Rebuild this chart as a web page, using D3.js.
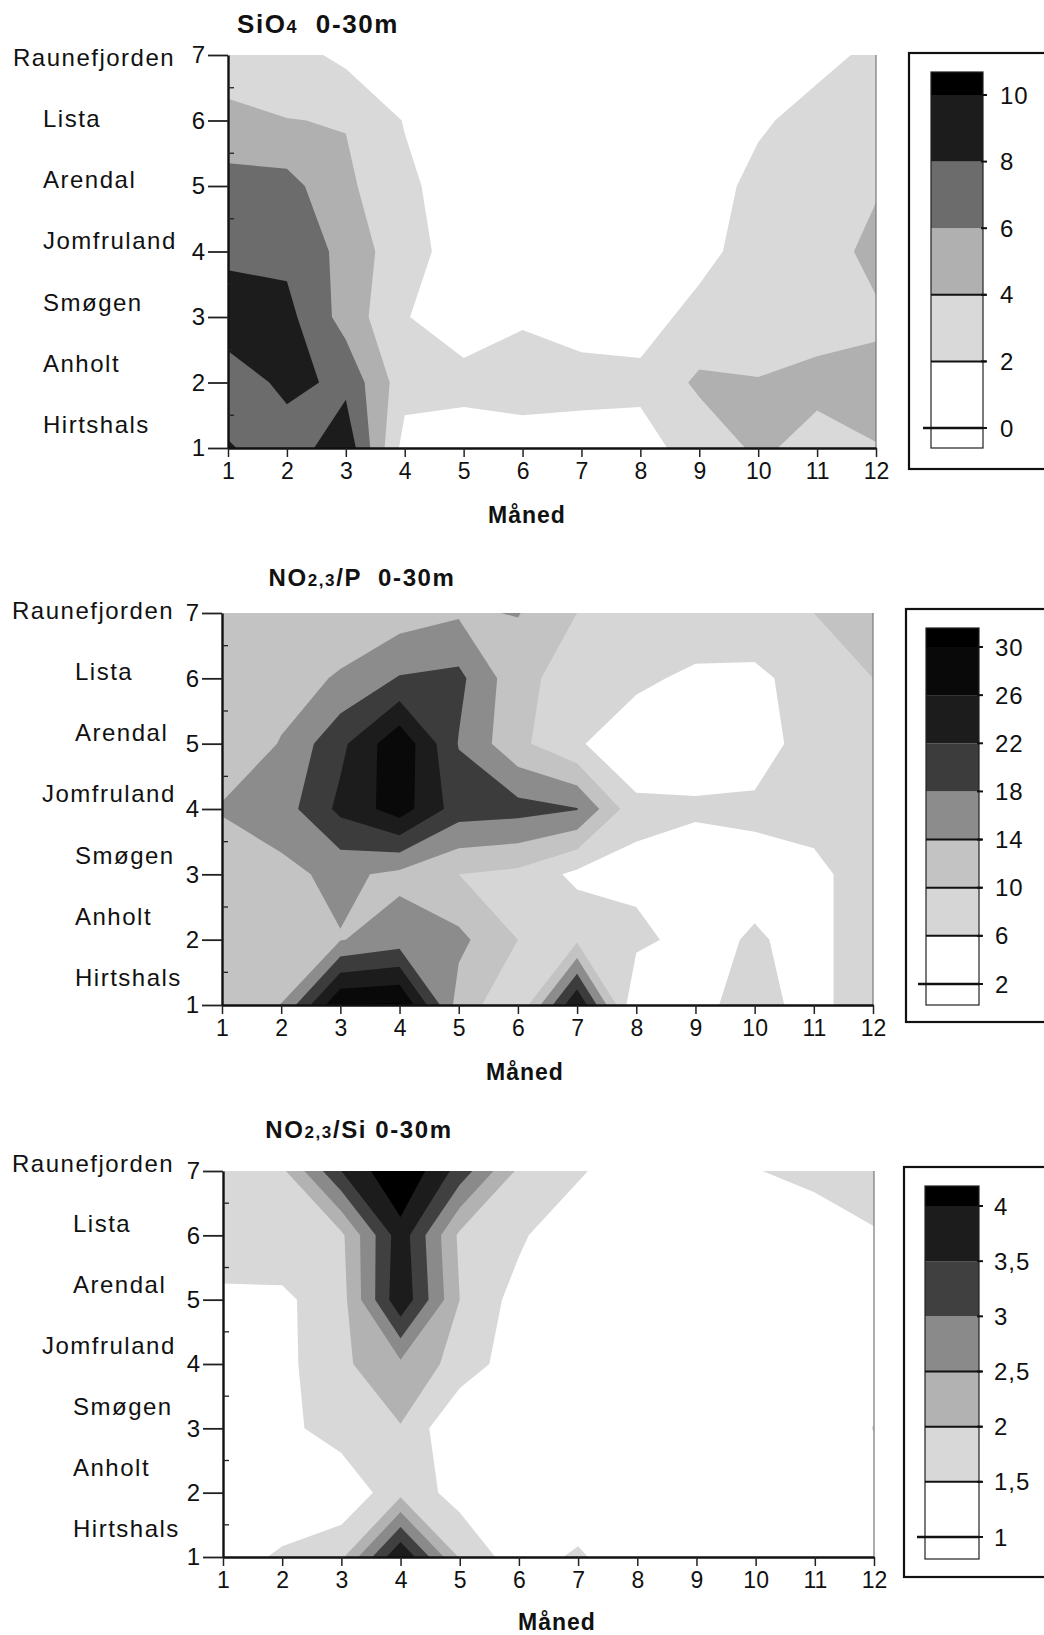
<!DOCTYPE html>
<html><head><meta charset="utf-8">
<script src="https://cdn.jsdelivr.net/npm/d3@7"></script>
<style>
body{margin:0;background:#fff;}
svg text{font-family:"Liberation Sans",Arial,Helvetica,sans-serif;fill:#111;}
</style></head><body>
<svg id="c" width="1044" height="1635"></svg>
<script>
// ---------- data ----------
const months=[1,2,3,4,5,6,7,8,9,10,11,12];
const stationTicks=[1,2,3,4,5,6,7];
const stations=["Hirtshals","Anholt","Smøgen","Jomfruland","Arendal","Lista","Raunefjorden"]; // station 1..7

// grid rows: station 1 (Hirtshals) first, columns month 1..12
const sio4Levels=[0,2,4,6,8,10];
const sio4Grid=[
 [8.2,6.8,9.4,1.2,1.0,1.2,1.2,1.5,2.6,4.4,3.2,3.95],
 [6.6,8.6,7.5,2.8,2.6,2.8,2.6,2.3,4.4,4.1,4.6,4.5],
 [9.5,8.6,5.2,2.1,1.0,1.8,1.3,1.5,2.4,2.9,3.1,3.7],
 [7.4,7.5,5.4,2.6,1.3,1.0,1.0,1.0,1.6,2.6,3.0,4.6],
 [6.8,6.7,4.4,2.4,1.0,1.0,1.0,1.0,1.3,2.4,2.9,3.8],
 [4.5,4.05,3.9,1.9,1.0,1.0,1.0,1.0,1.0,1.8,2.5,2.9],
 [3.0,2.8,1.5,1.0,1.0,1.0,1.0,1.0,1.0,1.0,1.6,2.3]
];
const no3pLevels=[2,6,10,14,18,22,26,30];
const no3pGrid=[
 [10,14.1,30,30.5,12.2,6.6,26,2,5,7.5,4.5,9],
 [10,10.5,13.8,16,15,10,9.3,7,4.5,6.5,4.5,9],
 [10,13,15,13,10,9,5,5,4,4.5,5,8],
 [14.5,16,23,28,20,19.5,18.2,7,6.5,6.8,7.5,9],
 [10,14.3,21,29,17.8,11,6.5,3,4,4,8,10],
 [10.5,12,14.5,18.3,19,11.3,8,7,5,5,8,10],
 [11,11,11,12,13.5,14.2,10,10,9.5,9,10,10]
];
const no3siLevels=[1,1.5,2,2.5,3,3.5,4];
const no3siGrid=[
 [1.2,1.6,1.9,4.0,1.95,1.2,1.6,1.0,1.0,1.0,1.0,1.0],
 [1.0,1.0,1.1,1.85,1.3,1.0,1.0,1.0,1.0,1.0,1.0,1.2],
 [1.0,1.35,1.75,1.97,1.0,1.0,1.0,1.0,1.0,1.0,1.0,1.52],
 [1.1,1.35,1.9,2.4,1.8,1.2,1.0,1.0,1.0,1.0,1.0,1.2],
 [1.4,1.4,1.8,3.9,2.0,1.3,1.0,1.0,1.0,1.0,1.0,1.1],
 [1.8,1.85,1.9,3.8,1.9,1.6,1.0,1.0,1.0,1.0,1.2,1.45],
 [1.8,1.9,3.5,4.5,3.3,1.9,1.6,1.0,1.0,1.48,1.65,1.8]
];

// ---------- layout / style ----------
const panels=[
 {id:"p1",grid:sio4Grid,levels:sio4Levels,
  colors:["#fff","#fff","#d9d9d9","#b0b0b0","#6c6c6c","#1c1c1c","#000"],
  title:[["SiO",26],["4",18],["  0-30m",26]],titleX:318,titleY:33,
  x0:228,x1:876,yTop:55,yBot:448,
  labelX:{Raunefjorden:13,_:43},labelY0:57,labelStep:61.3,
  manedX:527,manedY:523,
  leg:{bx:909,by:53,bh:416,barX:931,barW:52,barTop:72,barBot:448,tTop:95,tBot:428,lx:1000,lines:[2,4]}},
 {id:"p2",grid:no3pGrid,levels:no3pLevels,
  colors:["#fff","#fff","#d6d6d6","#c3c3c3","#8c8c8c","#3c3c3c","#1c1c1c","#090909","#000"],
  title:[["NO",24],["2,3",17],["/P  0-30m",24]],titleX:362,titleY:586,
  x0:222,x1:873,yTop:613,yBot:1005,
  labelX:{Raunefjorden:12,Jomfruland:42,_:75},labelY0:610,labelStep:61.3,
  manedX:525,manedY:1080,
  leg:{bx:906,by:609,bh:413,barX:926,barW:53,barTop:628,barBot:1005,tTop:647,tBot:984,lx:995,lines:[6,10,14]}},
 {id:"p3",grid:no3siGrid,levels:no3siLevels,
  colors:["#fff","#fff","#d8d8d8","#b2b2b2","#8a8a8a","#404040","#1c1c1c","#000"],
  title:[["NO",24],["2,3",17],["/Si 0-30m",24]],titleX:359,titleY:1138,
  x0:223,x1:874,yTop:1171,yBot:1557,
  labelX:{Raunefjorden:12,Jomfruland:42,_:73},labelY0:1163,labelStep:60.9,
  manedX:557,manedY:1630,
  leg:{bx:904,by:1167,bh:410,barX:925,barW:54,barTop:1186,barBot:1559,tTop:1206,tBot:1537,lx:994,lines:[1.5,2,2.5]}}
];

const svg=d3.select("#c");
const fmt=v=>String(v).replace(".",",");

panels.forEach(cfg=>{
  const g=svg.append("g");
  const x=d3.scaleLinear().domain([1,12]).range([cfg.x0,cfg.x1]);
  const y=d3.scaleLinear().domain([1,7]).range([cfg.yBot,cfg.yTop]);

  svg.append("defs").append("clipPath").attr("id","clip-"+cfg.id)
    .append("rect").attr("x",cfg.x0).attr("y",cfg.yTop)
    .attr("width",cfg.x1-cfg.x0).attr("height",cfg.yBot-cfg.yTop);

  g.append("rect").attr("x",cfg.x0).attr("y",cfg.yTop)
    .attr("width",cfg.x1-cfg.x0).attr("height",cfg.yBot-cfg.yTop).attr("fill",cfg.colors[0]);

  const values=cfg.grid.flat();
  const contours=d3.contours().size([months.length,stationTicks.length]).thresholds(cfg.levels)(values);
  const proj=d3.geoTransform({point(px,py){this.stream.point(x(px+0.5),y(py+0.5));}});
  const path=d3.geoPath(proj);
  g.append("g").attr("clip-path","url(#clip-"+cfg.id+")")
    .selectAll("path").data(contours).join("path")
    .attr("d",path).attr("fill",(d,i)=>cfg.colors[i+1]).attr("stroke","none");

  g.append("line").attr("x1",cfg.x1).attr("x2",cfg.x1).attr("y1",cfg.yTop).attr("y2",cfg.yBot)
    .attr("stroke","#777").attr("stroke-width",1.2);

  const xa=g.append("g").attr("transform",`translate(0,${cfg.yBot})`)
    .call(d3.axisBottom(x).tickValues(months).tickFormat(d3.format("d")).tickSize(9).tickSizeOuter(0).tickPadding(6));
  xa.select(".domain").attr("stroke","#111").attr("stroke-width",2.6);
  xa.selectAll(".tick line").attr("stroke","#222").attr("stroke-width",1.5);
  xa.selectAll(".tick text").attr("font-size",23).attr("fill","#111")
    .style("font-family","'Liberation Sans',Arial,sans-serif");

  const ya=g.append("g").attr("transform",`translate(${cfg.x0},0)`)
    .call(d3.axisLeft(y).tickValues(stationTicks).tickFormat(d3.format("d")).tickSize(20).tickSizeOuter(0).tickPadding(3));
  ya.select(".domain").attr("stroke","#111").attr("stroke-width",2.4);
  ya.selectAll(".tick line").attr("stroke","#222").attr("stroke-width",1.8);
  ya.selectAll(".tick text").attr("font-size",24).attr("fill","#111")
    .style("font-family","'Liberation Sans',Arial,sans-serif");
  g.append("g").selectAll("line").data(stationTicks.slice(0,-1)).join("line")
    .attr("x1",cfg.x0).attr("x2",cfg.x0+6)
    .attr("y1",d=>y(d+0.5)).attr("y2",d=>y(d+0.5))
    .attr("stroke","#222").attr("stroke-width",1.3);

  g.append("g").selectAll("text").data(stations).join("text")
    .attr("x",d=>cfg.labelX[d]!==undefined?cfg.labelX[d]:cfg.labelX._)
    .attr("y",(d,i)=>cfg.labelY0+(stations.length-1-i)*cfg.labelStep)
    .attr("dominant-baseline","central")
    .attr("font-size",24).style("letter-spacing","1.5px")
    .text(d=>d);

  const t=g.append("text").attr("x",cfg.titleX).attr("y",cfg.titleY)
    .attr("text-anchor","middle").attr("font-weight","bold")
    .style("letter-spacing","1.6px").style("white-space","pre");
  cfg.title.forEach(([s,fs])=>t.append("tspan").attr("font-size",fs).text(s));

  g.append("text").attr("x",cfg.manedX).attr("y",cfg.manedY)
    .attr("text-anchor","middle").attr("font-weight","bold").attr("font-size",23)
    .style("letter-spacing","1px").text("Måned");

  const L=cfg.leg;
  const lg=g.append("g");
  lg.append("rect").attr("x",L.bx).attr("y",L.by).attr("width",200).attr("height",L.bh)
    .attr("fill","#fff").attr("stroke","#111").attr("stroke-width",2.2);
  const ls=d3.scaleLinear().domain([cfg.levels[0],cfg.levels[cfg.levels.length-1]]).range([L.tBot,L.tTop]);
  const bands=cfg.colors.map((c,i)=>{
    const lo=i===0?L.barBot:ls(cfg.levels[i-1]);
    const hi=i===cfg.levels.length?L.barTop:ls(cfg.levels[i]);
    return {c,lo,hi};
  });
  lg.selectAll("rect.band").data(bands).join("rect").attr("class","band")
    .attr("x",L.barX).attr("width",L.barW)
    .attr("y",d=>d.hi).attr("height",d=>d.lo-d.hi).attr("fill",d=>d.c);
  lg.append("rect").attr("x",L.barX).attr("y",L.barTop).attr("width",L.barW)
    .attr("height",L.barBot-L.barTop).attr("fill","none").attr("stroke","#222").attr("stroke-width",1.2);
  lg.selectAll("line.rt").data(cfg.levels).join("line").attr("class","rt")
    .attr("x1",L.barX+L.barW-2).attr("x2",L.barX+L.barW+4)
    .attr("y1",d=>ls(d)).attr("y2",d=>ls(d)).attr("stroke","#111").attr("stroke-width",2);
  lg.selectAll("line.ac").data(L.lines).join("line").attr("class","ac")
    .attr("x1",L.barX).attr("x2",L.barX+L.barW+3)
    .attr("y1",d=>ls(d)).attr("y2",d=>ls(d)).attr("stroke","#111").attr("stroke-width",2);
  lg.append("line").attr("x1",L.barX-8).attr("x2",L.barX+L.barW)
    .attr("y1",ls(cfg.levels[0])).attr("y2",ls(cfg.levels[0])).attr("stroke","#111").attr("stroke-width",2.6);
  lg.selectAll("text").data(cfg.levels).join("text")
    .attr("x",L.lx).attr("y",d=>ls(d)).attr("dominant-baseline","central")
    .attr("font-size",24).style("letter-spacing","1px").text(d=>fmt(d));
});
</script>
</body></html>
